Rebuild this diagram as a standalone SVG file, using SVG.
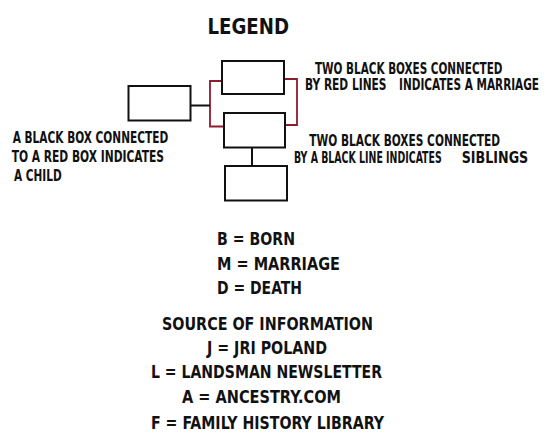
<svg xmlns="http://www.w3.org/2000/svg" width="545" height="446" viewBox="0 0 545 446">
<style>
.box{fill:none;stroke:#111;stroke-width:2}
.red{fill:none;stroke:#8e1c2c;stroke-width:1.8}
.blk{fill:none;stroke:#111;stroke-width:2}
text{font-family:"DejaVu Sans Condensed","Liberation Sans",Arial,sans-serif;font-weight:bold;fill:#111}
.s{font-size:12px}
.m{font-size:14.7px}
.l{font-size:19.5px}
</style>
<rect width="545" height="446" fill="#ffffff"/>
<text class="l" transform="translate(0,33.5) scale(1,1.13)" x="207.5" y="0" textLength="81.5" lengthAdjust="spacingAndGlyphs">LEGEND</text>
<g id="connectors">
<path class="red" d="M222,81 H210 V126.5 H224"/>
<path class="red" d="M284,79 H297 V125 H285"/>
<path class="blk" d="M190,105.5 H210"/>
<path class="blk" d="M252,147.5 V166"/>
</g>
<g id="node-top"><rect class="box" x="222" y="61" width="62" height="33"/></g>
<g id="node-left"><rect class="box" x="128.5" y="86" width="62" height="34.5"/></g>
<g id="node-middle"><rect class="box" x="224" y="113" width="61" height="34.5"/></g>
<g id="node-bottom"><rect class="box" x="225" y="166" width="62" height="34.5"/></g>
<g id="labels">
<text class="s" transform="translate(0,74.3) scale(1,1.3)" x="315" y="0" textLength="187.5" lengthAdjust="spacingAndGlyphs">TWO BLACK BOXES CONNECTED</text>
<text class="s" transform="translate(0,90) scale(1,1.3)" x="305" y="0" textLength="81.5" lengthAdjust="spacingAndGlyphs">BY RED LINES</text>
<text class="s" transform="translate(0,90) scale(1,1.3)" x="399" y="0" textLength="140" lengthAdjust="spacingAndGlyphs">INDICATES A MARRIAGE</text>
<text class="s" transform="translate(0,142.7) scale(1,1.3)" x="12.7" y="0" textLength="155.5" lengthAdjust="spacingAndGlyphs">A BLACK BOX CONNECTED</text>
<text class="s" transform="translate(0,161.7) scale(1,1.3)" x="11.7" y="0" textLength="152.3" lengthAdjust="spacingAndGlyphs">TO A RED BOX INDICATES</text>
<text class="s" transform="translate(0,181) scale(1,1.3)" x="14" y="0" textLength="47.7" lengthAdjust="spacingAndGlyphs">A CHILD</text>
<text class="s" transform="translate(0,146) scale(1,1.3)" x="309.3" y="0" textLength="190.7" lengthAdjust="spacingAndGlyphs">TWO BLACK BOXES CONNECTED</text>
<text class="s" transform="translate(0,163.3) scale(1,1.3)" x="294" y="0" textLength="147.7" lengthAdjust="spacingAndGlyphs">BY A BLACK LINE INDICATES</text>
<text class="s" transform="translate(0,163.3) scale(1,1.3)" x="461.7" y="0" textLength="66.6" lengthAdjust="spacingAndGlyphs">SIBLINGS</text>
<text class="m" transform="translate(0,244.5) scale(1,1.18)" x="217" y="0" textLength="78" lengthAdjust="spacingAndGlyphs">B = BORN</text>
<text class="m" transform="translate(0,269.5) scale(1,1.18)" x="217" y="0" textLength="123" lengthAdjust="spacingAndGlyphs">M = MARRIAGE</text>
<text class="m" transform="translate(0,293.5) scale(1,1.18)" x="217" y="0" textLength="85" lengthAdjust="spacingAndGlyphs">D = DEATH</text>
<text class="m" transform="translate(0,330) scale(1,1.18)" x="162" y="0" textLength="211" lengthAdjust="spacingAndGlyphs">SOURCE OF INFORMATION</text>
<text class="m" transform="translate(0,353.5) scale(1,1.18)" x="207" y="0" textLength="120" lengthAdjust="spacingAndGlyphs">J = JRI POLAND</text>
<text class="m" transform="translate(0,378) scale(1,1.18)" x="151" y="0" textLength="231" lengthAdjust="spacingAndGlyphs">L = LANDSMAN NEWSLETTER</text>
<text class="m" transform="translate(0,402.5) scale(1,1.18)" x="182" y="0" textLength="159" lengthAdjust="spacingAndGlyphs">A = ANCESTRY.COM</text>
<text class="m" transform="translate(0,428.5) scale(1,1.18)" x="151" y="0" textLength="233" lengthAdjust="spacingAndGlyphs">F = FAMILY HISTORY LIBRARY</text>
</g>
</svg>
